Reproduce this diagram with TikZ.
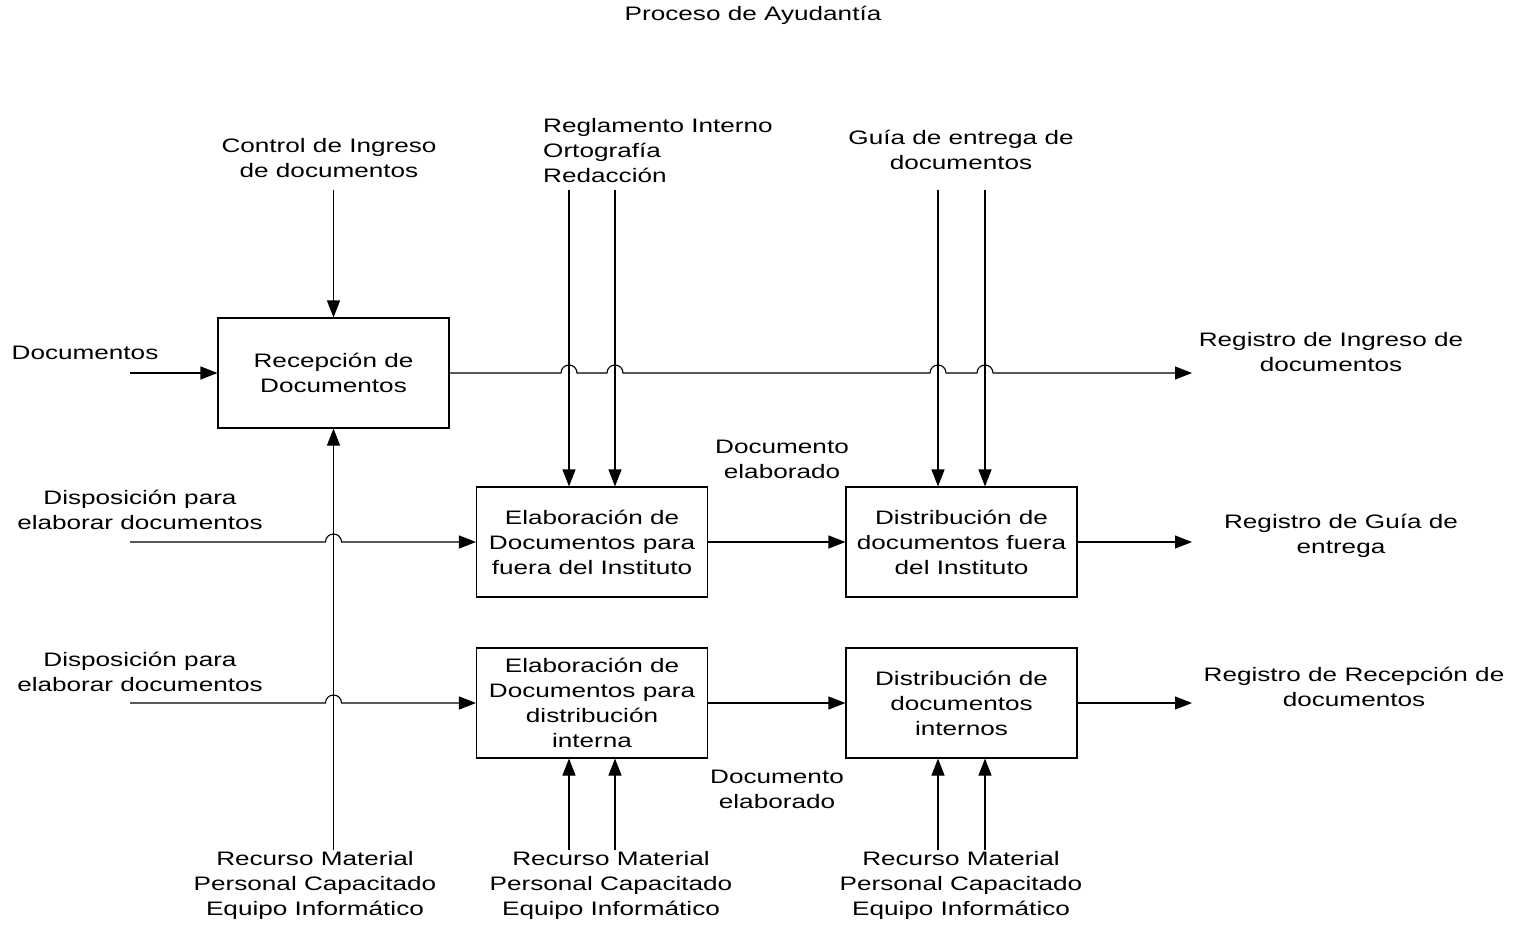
\documentclass[tikz,border=0pt]{standalone}
\usepackage{fontspec}
\setmainfont[FakeStretch=1.34]{Liberation Sans}
\usetikzlibrary{arrows.meta}
\begin{document}
\begin{tikzpicture}[x=1pt,y=-1pt,
 every node/.style={font=\fontsize{19.5}{25}\selectfont, align=center, inner sep=0pt},
 proc/.style={draw, line width=1.1pt, minimum width=231pt, minimum height=110pt},
 flow/.style={line width=1.1pt, -{Triangle[length=17pt,width=13pt]}}]
\useasboundingbox (0,0) rectangle (1514,925);
% title
\node (title) at (753,15) {Proceso de Ayudantía};
% boxes
\node[proc] (rec) at (333.5,373) {Recepción de\\Documentos};
\node[proc] (elf) at (592,542) {Elaboración de\\Documentos para\\fuera del Instituto};
\node[proc] (dif) at (961.5,542) {Distribución de\\documentos fuera\\del Instituto};
\node[proc] (eli) at (592,703) {Elaboración de\\Documentos para\\distribución\\interna};
\node[proc] (dii) at (961.5,703) {Distribución de\\documentos\\internos};
% coordinates
\coordinate (docin) at (130,373);
\coordinate (ctrl) at (333.5,190);
\coordinate (rm1) at (333.5,850);
\coordinate (rg1) at (569,190);
\coordinate (rg2) at (615,190);
\coordinate (gu1) at (938,190);
\coordinate (gu2) at (985,190);
\coordinate (o1) at (1192,373);
\coordinate (o2) at (1192,542);
\coordinate (o3) at (1192,703);
\coordinate (d1) at (130,542);
\coordinate (d2) at (130,703);
\coordinate (b1) at (569,850);
\coordinate (b2) at (615,850);
\coordinate (b3) at (938,850);
\coordinate (b4) at (985,850);
% labels
\node (lctrl) at (329,158) {Control de Ingreso\\de documentos};
\node (ldoc) at (85,353) {Documentos};
\node[align=left, anchor=west] (lreg) at (543,151) {Reglamento Interno\\Ortografía\\Redacción};
\node (lgui) at (961,150) {Guía de entrega de\\documentos};
\node (lo1) at (1331,352) {Registro de Ingreso de\\documentos};
\node (ld1) at (140,510) {Disposición para\\elaborar documentos};
\node (ld2) at (140,672) {Disposición para\\elaborar documentos};
\node (lde1) at (782,459) {Documento\\elaborado};
\node (lde2) at (777,789) {Documento\\elaborado};
\node (lo2) at (1341,536) {Registro de Guía de\\entrega};
\node (lo3) at (1354,687) {Registro de Recepción de\\documentos};
\node (lr1) at (315,885) {Recurso Material\\Personal Capacitado\\Equipo Informático};
\node (lr2) at (611,885) {Recurso Material\\Personal Capacitado\\Equipo Informático};
\node (lr3) at (961,885) {Recurso Material\\Personal Capacitado\\Equipo Informático};
% vertical connectors
\draw[flow] (ctrl) -- (rec.north);
\draw[flow] (rm1) -- (rec.south);
\draw[flow] (rg1) -- (rg1 |- elf.north);
\draw[flow] (rg2) -- (rg2 |- elf.north);
\draw[flow] (gu1) -- (gu1 |- dif.north);
\draw[flow] (gu2) -- (gu2 |- dif.north);
\draw[flow] (b1) -- (b1 |- eli.south);
\draw[flow] (b2) -- (b2 |- eli.south);
\draw[flow] (b3) -- (b3 |- dii.south);
\draw[flow] (b4) -- (b4 |- dii.south);
% horizontal connectors
\draw[flow] (docin) -- (rec.west);
\draw[flow] (rec.east)
  -- ([xshift=-8pt]rg1 |- rec.east) arc[start angle=180,end angle=360,radius=8]
  -- ([xshift=-8pt]rg2 |- rec.east) arc[start angle=180,end angle=360,radius=8]
  -- ([xshift=-8pt]gu1 |- rec.east) arc[start angle=180,end angle=360,radius=8]
  -- ([xshift=-8pt]gu2 |- rec.east) arc[start angle=180,end angle=360,radius=8]
  -- (o1);
\draw[flow] (d1) -- ([xshift=-8pt]rm1 |- d1) arc[start angle=180,end angle=360,radius=8] -- (elf.west);
\draw[flow] (d2) -- ([xshift=-8pt]rm1 |- d2) arc[start angle=180,end angle=360,radius=8] -- (eli.west);
\draw[flow] (elf.east) -- (dif.west);
\draw[flow] (dif.east) -- (o2);
\draw[flow] (eli.east) -- (dii.west);
\draw[flow] (dii.east) -- (o3);
\end{tikzpicture}
\end{document}
